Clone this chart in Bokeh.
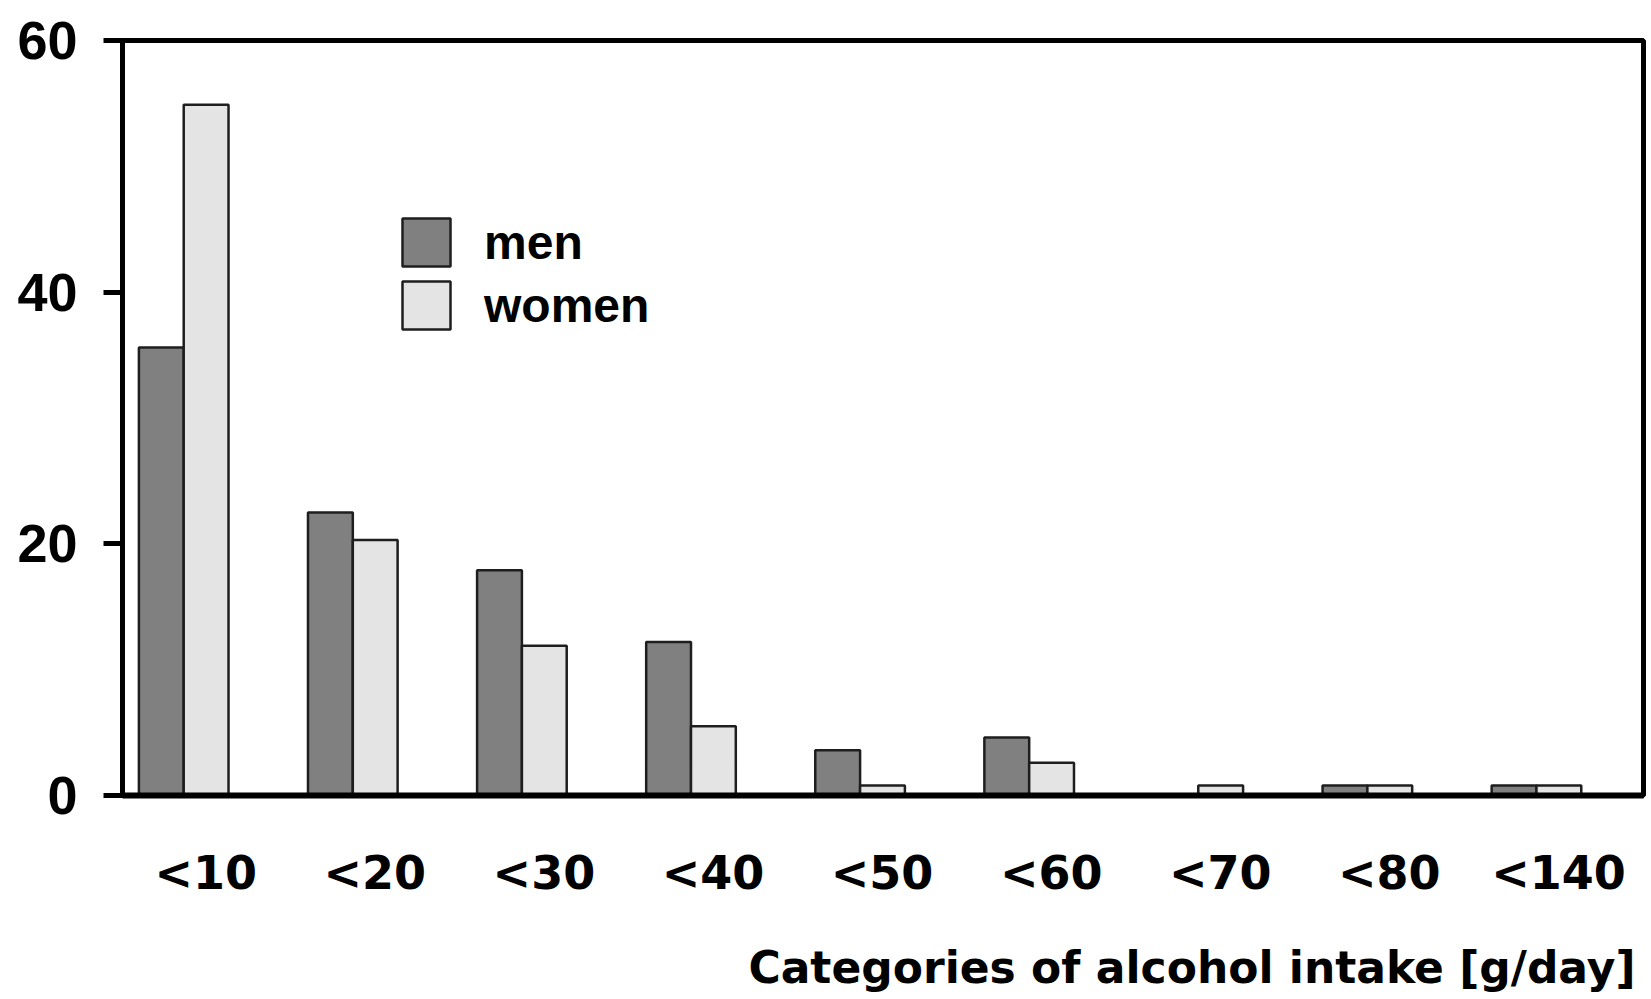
import numpy as np
from bokeh.plotting import figure
from bokeh.models import (Range1d, FixedTicker, Legend, LegendItem, Title, ColumnDataSource)
from bokeh.embed import file_html
from bokeh.resources import INLINE

categories = ["<10", "<20", "<30", "<40", "<50", "<60", "<70", "<80", "<140"]
men = [35.6, 22.5, 17.9, 12.2, 3.6, 4.6, 0.0, 0.8, 0.8]
women = [54.9, 20.3, 11.9, 5.5, 0.8, 2.6, 0.8, 0.8, 0.8]
y_ticks = [0, 20, 40, 60]
x_title = "Categories of alcohol intake [g/day]"

FONT = "Liberation Sans"
FONT_W = "DejaVu Sans"
BW = 0.265
idx = np.arange(len(categories))

src = ColumnDataSource(dict(
    x_men=idx - BW / 2, x_women=idx + BW / 2, men=men, women=women))

p = figure(width=1651, height=999, output_backend="svg", toolbar_location=None,
           x_range=Range1d(-0.362, 8.633), y_range=Range1d(0, 60),
           min_border_left=122, min_border_top=40, min_border_right=8,
           min_border_bottom=204)
p.background_fill_color = "white"
p.border_fill_color = "white"
p.xgrid.visible = False
p.ygrid.visible = False
p.outline_line_color = "black"
p.outline_line_width = 5
p.outline_line_alpha = 1

r_men = p.vbar(x="x_men", top="men", width=BW, bottom=0, source=src,
               fill_color="#808080", line_color="#1e1e1e", line_width=2.5)
r_women = p.vbar(x="x_women", top="women", width=BW, bottom=0, source=src,
                 fill_color="#e4e4e4", line_color="#1e1e1e", line_width=2.5)

# y axis
ya = p.yaxis[0]
ya.ticker = FixedTicker(ticks=y_ticks)
ya.axis_line_width = 5
ya.major_tick_out = 19
ya.major_tick_in = 0
ya.major_tick_line_width = 5
ya.minor_tick_line_color = None
ya.major_label_standoff = 26
ya.major_label_text_font = FONT
ya.major_label_text_font_style = "bold"
ya.major_label_text_font_size = "54px"
ya.major_label_text_color = "black"

# x axis
xa = p.xaxis[0]
xa.ticker = FixedTicker(ticks=list(idx + 0.13))
xa.major_label_overrides = {float(i + 0.13): c for i, c in zip(idx, categories)}
xa.axis_line_width = 6
xa.major_tick_line_color = None
xa.minor_tick_line_color = None
xa.major_tick_out = 0
xa.major_tick_in = 0
xa.major_label_standoff = 50
xa.major_label_text_font = FONT_W
xa.major_label_text_font_style = "bold"
xa.major_label_text_font_size = "46px"
xa.major_label_text_color = "black"
# blank axis label used only as vertical spacing before the right-aligned title
xa.axis_label = " "
xa.axis_label_text_font_size = "10px"
xa.axis_label_standoff = 16

title = Title(text=x_title, align="right", offset=8,
              text_font=FONT_W, text_font_style="bold", text_font_size="44px",
              text_color="black", standoff=14)
p.add_layout(title, "below")

legend = Legend(items=[LegendItem(label="men", renderers=[r_men]),
                       LegendItem(label="women", renderers=[r_women])],
                location=(274, 460), orientation="vertical",
                glyph_width=60, glyph_height=60, spacing=3, padding=0, margin=0,
                label_standoff=28, label_text_font=FONT, label_text_font_style="bold",
                label_text_font_size="48px", label_text_color="black",
                border_line_color=None, background_fill_alpha=0)
p.add_layout(legend)

open("out.html", "w").write(file_html(p, INLINE))
